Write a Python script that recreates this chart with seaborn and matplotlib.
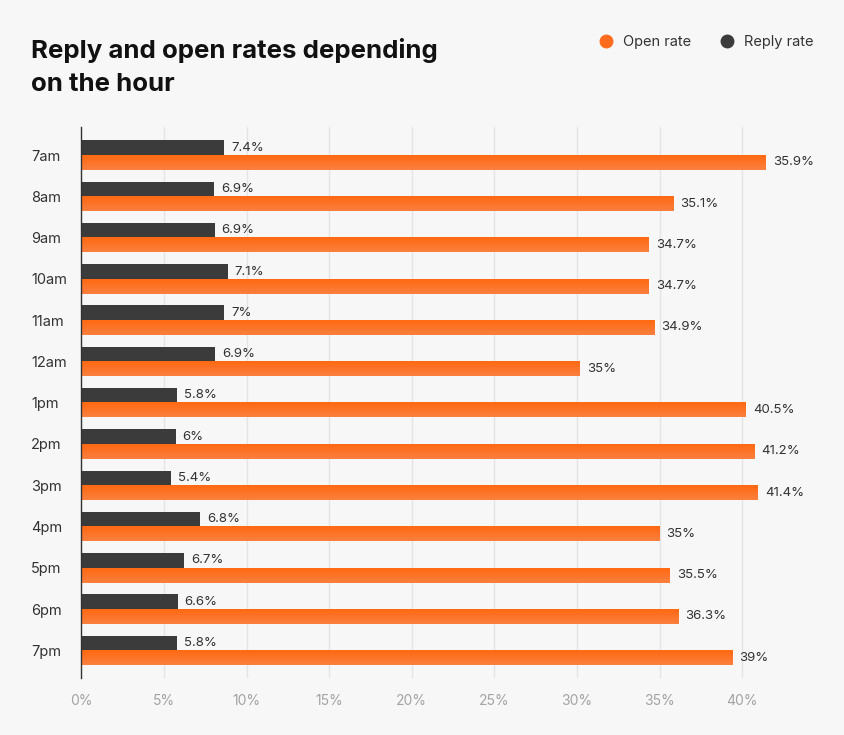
import numpy as np
import pandas as pd
import seaborn as sns
import matplotlib.pyplot as plt
from matplotlib.lines import Line2D
from matplotlib.colors import LinearSegmentedColormap

hours = ['7am', '8am', '9am', '10am', '11am', '12am', '1pm',
         '2pm', '3pm', '4pm', '5pm', '6pm', '7pm']
# bar lengths as drawn in the picture (%)
reply_rate = [8.64, 8.03, 8.07, 8.86, 8.66, 8.11, 5.77, 5.71, 5.41, 7.19, 6.24, 5.83, 5.77]
open_rate = [41.46, 35.84, 34.35, 34.35, 34.71, 30.19, 40.24, 40.74, 40.98, 35.01, 35.65, 36.14, 39.41]
# printed value labels
reply_labels = ['7.4%', '6.9%', '6.9%', '7.1%', '7%', '6.9%', '5.8%',
                '6%', '5.4%', '6.8%', '6.7%', '6.6%', '5.8%']
open_labels = ['35.9%', '35.1%', '34.7%', '34.7%', '34.9%', '35%', '40.5%',
               '41.2%', '41.4%', '35%', '35.5%', '36.3%', '39%']
x_ticks = [0, 5, 10, 15, 20, 25, 30, 35, 40]

bg = '#f7f7f7'
c_reply = '#3b3b3b'
c_open = '#fd6c1d'

df = pd.DataFrame({
    'hour': hours * 2,
    'value': reply_rate + open_rate,
    'series': ['Reply rate'] * len(hours) + ['Open rate'] * len(hours),
})

sns.set_theme(style='white')
plt.rcParams['font.family'] = ['Inter', 'DejaVu Sans']

W, H = 844, 735
fig = plt.figure(figsize=(W / 100, H / 100), dpi=100, facecolor=bg)
x0, x1 = 81.3, 81.3 + 43 * 16.52
y0, y1 = 126.7, 677.7
ax = fig.add_axes([x0 / W, 1 - y1 / H, (x1 - x0) / W, (y1 - y0) / H])
ax.set_facecolor(bg)

sns.barplot(data=df, y='hour', x='value', hue='series', order=hours,
            hue_order=['Reply rate', 'Open rate'],
            palette={'Reply rate': c_reply, 'Open rate': c_open},
            orient='h', width=0.712, dodge=True, legend=False, ax=ax,
            saturation=1, edgecolor='none', linewidth=0)

# vertical gradient on the orange bars (darker top, lighter bottom)
grad_cmap = LinearSegmentedColormap.from_list('og', ['#ff6912', '#fa7f3e'])
grad = np.linspace(0, 1, 32).reshape(-1, 1)
for p in ax.containers[1]:
    bx, by, bw, bh = p.get_x(), p.get_y(), p.get_width(), p.get_height()
    ax.imshow(grad, extent=[bx, bx + bw, by + bh, by], origin='upper',
              aspect='auto', cmap=grad_cmap, zorder=p.get_zorder(),
              interpolation='bilinear')
    p.set_facecolor('none')

for cont, labs in zip(ax.containers, [reply_labels, open_labels]):
    ax.bar_label(cont, labels=labs, padding=5, fontsize=9.5, color='#333333')

ax.set_xlim(0, 43)
ax.set_ylim(12.661, -0.686)
ax.set_xticks(x_ticks)
ax.set_xticklabels([f'{t}%' for t in x_ticks])
ax.tick_params(axis='x', length=0, pad=12, labelsize=10, labelcolor='#a3a3a3')
ax.tick_params(axis='y', length=0, labelsize=10.5, labelcolor='#333333')
ax.set_xlabel('')
ax.set_ylabel('')
ax.grid(axis='x', color='#e4e4e4', linewidth=1)
ax.set_axisbelow(True)
for s in ['top', 'right', 'bottom']:
    ax.spines[s].set_visible(False)
ax.spines['left'].set_color('#333333')
ax.spines['left'].set_linewidth(1)

# left-align the hour labels
for lab in ax.get_yticklabels():
    lab.set_horizontalalignment('left')
    lab.set_x(-(x0 - 31) / (x1 - x0))
    lab.set_transform(ax.get_yaxis_transform())

fig.text(31 / W, 1 - 67 / H, 'Reply and open rates depending\non the hour',
         fontsize=18.6, fontweight='bold', color='#111111', va='center',
         linespacing=1.55)

handles = [Line2D([], [], marker='o', linestyle='', markersize=9, color=c_open),
           Line2D([], [], marker='o', linestyle='', markersize=9, color=c_reply)]
fig.legend(handles, ['Open rate', 'Reply rate'], loc='center right',
           bbox_to_anchor=(827 / W, 1 - 42 / H), ncol=2, frameon=False,
           fontsize=10.5, labelcolor='#333333', handletextpad=0.2,
           columnspacing=1.45)

fig.savefig('out.png', dpi=100, facecolor=bg)
